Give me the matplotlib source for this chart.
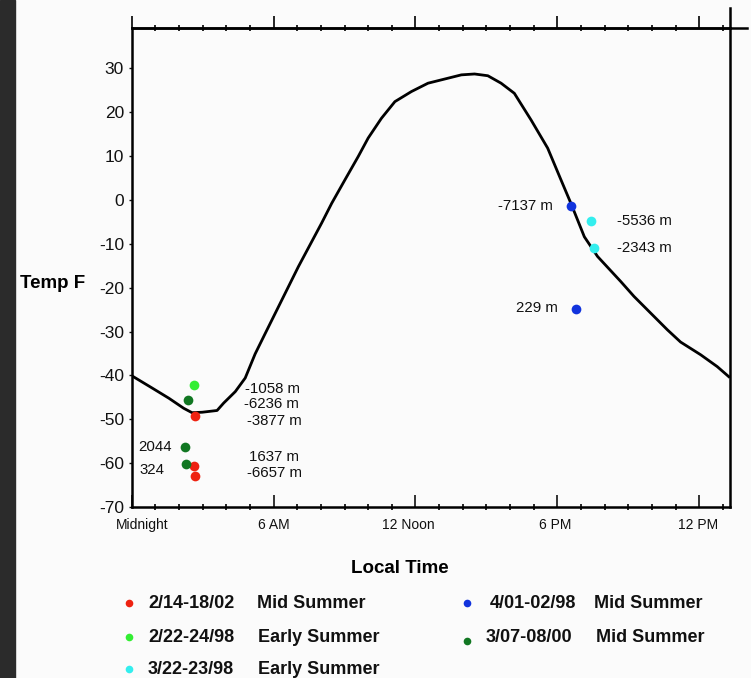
import numpy as np
import matplotlib
matplotlib.use('Agg')
import matplotlib.pyplot as plt
import matplotlib.transforms as mtransforms
from matplotlib.lines import Line2D
from matplotlib.patches import Rectangle
from matplotlib.ticker import MultipleLocator

plt.rcParams['font.family'] = ['Liberation Sans', 'DejaVu Sans']
plt.rcParams['axes.unicode_minus'] = False

W, H = 751, 678

# temperature curve (local hour, temp F)
curve_hour = [0.07, 0.87, 1.57, 2.20, 2.55, 2.98, 3.61, 3.89, 4.38, 4.80, 5.22, 5.65,
              6.35, 7.05, 8.03, 8.46, 9.02, 9.58, 10.00, 10.56, 11.13, 11.83, 12.53,
              13.94, 14.50, 15.06, 15.62, 16.18, 16.89, 17.59, 18.15, 18.57, 19.14,
              19.70, 20.68, 21.24, 22.65, 23.21, 24.06, 24.76, 25.25]
curve_temp = [-40.3, -42.9, -45.2, -47.5, -48.5, -48.4, -48.0, -46.3, -43.7, -40.6, -35.1, -30.4,
              -22.8, -15.2, -5.3, -0.75, 4.6, 9.9, 14.1, 18.6, 22.4, 24.7, 26.6,
              28.5, 28.7, 28.3, 26.6, 24.3, 18.2, 11.8, 4.6, -0.75, -8.4,
              -12.9, -18.6, -22.0, -29.6, -32.4, -35.3, -38.0, -40.3]

# measurement groups
series_names = ['2/14-18/02', '2/22-24/98', '3/22-23/98', '4/01-02/98', '3/07-08/00']
series_season = ['Mid Summer', 'Early Summer', 'Early Summer', 'Mid Summer', 'Mid Summer']
series_colors = ['#ee2211', '#33ee33', '#33eeee', '#1133dd', '#117722']
series_hour = [[2.69, 2.65, 2.69],
               [2.63],
               [19.42, 19.56],
               [18.58, 18.79],
               [2.39, 2.27, 2.30]]
series_temp = [[-49.2, -60.6, -62.9],
               [-42.2],
               [-4.9, -10.9],
               [-1.4, -24.9],
               [-45.7, -56.4, -60.2]]

# altitude labels
ann_text = ['-1058 m', '-6236 m', '-3877 m', '2044', '324', '1637 m', '-6657 m',
            '-7137 m', '-5536 m', '-2343 m', '229 m']
ann_pos = [(4.80, -43.1), (4.73, -46.6), (4.87, -50.5), (0.28, -56.4), (0.31, -61.5),
           (4.95, -58.5), (4.87, -62.3), (15.49, -1.4), (20.54, -4.9), (20.54, -10.9),
           (16.26, -24.7)]

xtick_pos = [0, 6, 12, 18, 24]
xtick_lab = ['Midnight', '6 AM', '12 Noon', '6 PM', '12 PM']
ytick_pos = list(range(-70, 31, 10))

fig = plt.figure(figsize=(W / 100, H / 100), dpi=100, facecolor='#fbfbfb')
fig.add_artist(Rectangle((0, 0), 15 / W, 1, transform=fig.transFigure,
                         color='#2b2b2b', zorder=0))

ax = fig.add_axes([131.7 / W, 1 - 507 / H, (730 - 131.7) / W, (507 - 27.7) / H])
ax.set_facecolor('#fbfbfb')

ax.plot(curve_hour, curve_temp, color='black', lw=2.0, zorder=2)
for hx, ty, c in zip(series_hour, series_temp, series_colors):
    ax.plot(hx, ty, 'o', color=c, ms=7, mec='none', zorder=3)

for t, (hx, ty) in zip(ann_text, ann_pos):
    ax.text(hx, ty, t, fontsize=10.8, ha='left', va='center', color='#111111')

ax.set_xlim(0, 25.3)
ax.set_ylim(-70, 39.25)

for s in ax.spines.values():
    s.set_linewidth(1.8)

ax.set_yticks(ytick_pos)
ax.tick_params(axis='y', direction='out', length=2.5, width=1, labelsize=12.5, pad=3,
               colors='#111111')
ax.set_xticks(xtick_pos)
ax.set_xticklabels(xtick_lab)
ax.xaxis.set_minor_locator(MultipleLocator(1))
ax.tick_params(axis='x', which='major', direction='in', length=9, width=1.2,
               labelsize=10, pad=8, colors='#111111')
ax.tick_params(axis='x', which='minor', direction='inout', length=5, width=1.2)

# nudge a couple of tick labels like the original
labs = ax.get_xticklabels()
shifts = [10, 0, -7, -2, -1]
for lab, dx in zip(labs, shifts):
    lab.set_transform(lab.get_transform() +
                      mtransforms.ScaledTranslation(dx / 100, 0, fig.dpi_scale_trans))

top = ax.secondary_xaxis('top')
top.set_xticks(xtick_pos)
top.xaxis.set_minor_locator(MultipleLocator(1))
top.tick_params(which='major', direction='out', length=9, width=1.2, labeltop=False)
top.tick_params(which='minor', direction='inout', length=5, width=1.2)
top.spines['top'].set_linewidth(1.8)

# axis lines sticking out at the top right corner
ax.plot([1, 1], [1, 1 + 20 / 479.3], transform=ax.transAxes, color='black',
        lw=1.8, clip_on=False)
ax.plot([1, 1 + 17 / 598.3], [1, 1], transform=ax.transAxes, color='black',
        lw=1.8, clip_on=False)

ax.set_ylabel('Temp F', rotation=0, fontsize=13.5, fontweight='bold', ha='center',
              va='center')
ax.yaxis.set_label_coords((53 - 131.7) / 598.3, (507 - 283) / 479.3)
ax.set_xlabel('Local Time', fontsize=13.5, fontweight='bold')
ax.xaxis.set_label_coords((400 - 131.7) / 598.3, (507 - 560) / 479.3)

# legend, two columns
leg_marker = [(129, 603), (129, 637), (129, 669), (467, 603), (467, 641)]
leg_name_x = [148, 148, 148, 490, 486]
leg_season_x = [257, 258, 258, 594, 596]
leg_row_y = [603, 637, 669, 603, 637]
for i in range(len(series_names)):
    mx, my = leg_marker[i]
    fig.add_artist(Line2D([mx / W], [1 - my / H], marker='o', ms=5.5, mec='none',
                          color=series_colors[i], transform=fig.transFigure))
    fig.text(leg_name_x[i] / W, 1 - leg_row_y[i] / H, series_names[i], fontsize=13,
             fontweight='bold', ha='left', va='center', color='#111111')
    fig.text(leg_season_x[i] / W, 1 - leg_row_y[i] / H, series_season[i], fontsize=13,
             fontweight='bold', ha='left', va='center', color='#111111')

fig.savefig('out.png', dpi=100, facecolor=fig.get_facecolor())
